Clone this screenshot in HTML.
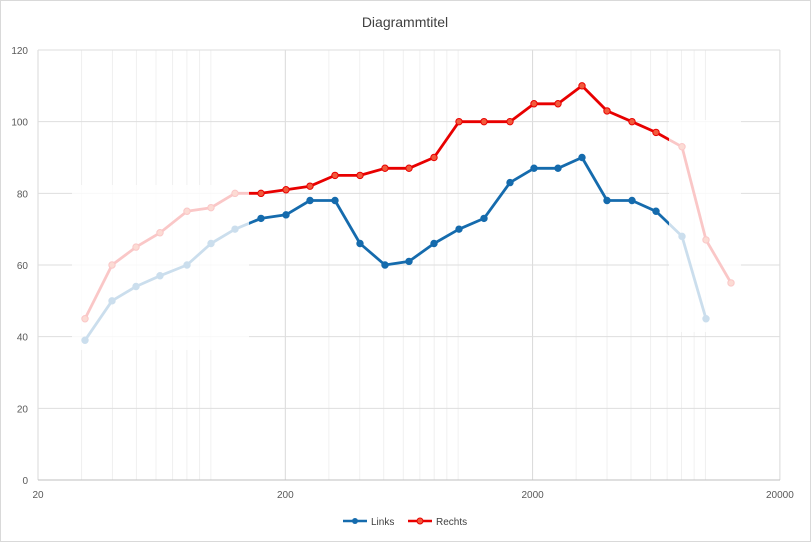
<!DOCTYPE html>
<html><head><meta charset="utf-8"><style>
body{margin:0;background:#fff}
svg{display:block;font-family:"Liberation Sans",sans-serif}
</style></head><body>
<svg width="811" height="542" viewBox="0 0 811 542" xmlns="http://www.w3.org/2000/svg">
<rect x="0.5" y="0.5" width="810" height="541" fill="#fff" stroke="#d9d9d9"/>
<text x="405" y="27" text-anchor="middle" font-size="14" fill="#404040">Diagrammtitel</text>
<g id="grid"></g>
<g id="series"></g>
<rect x="72" y="185" width="177" height="165" fill="#fff" opacity="0.78"/>
<rect x="669" y="120" width="72" height="212" fill="#fff" opacity="0.78"/>
<g font-size="10" fill="#595959" id="labels"></g>
<g font-size="10" fill="#404040">
<line x1="343" y1="521" x2="367" y2="521" stroke="#156bad" stroke-width="2.5"/><circle cx="355" cy="521" r="3" fill="#156bad"/>
<text x="371" y="525">Links</text>
<line x1="408" y1="521" x2="432" y2="521" stroke="#e80000" stroke-width="2.5"/><circle cx="420" cy="521" r="3" fill="#f25a3c" stroke="#e80000"/>
<text x="436" y="525">Rechts</text>
</g>
<script>
var ns="http://www.w3.org/2000/svg";
function X(f){return 38+247.3*Math.log10(f/20);}
function Y(v){return 480-v*3.5833;}
function el(p,t,a){var e=document.createElementNS(ns,t);for(var k in a)e.setAttribute(k,a[k]);p.appendChild(e);return e;}
var g=document.getElementById('grid'),L=document.getElementById('labels');
[[10,100],[100,1000],[1000,10000],[10000,100000]].forEach(function(r){for(var m=1;m<=9;m++){var f=r[0]*m;if(f<20||f>20000)continue;var x=X(f);el(g,'line',{x1:x,x2:x,y1:50,y2:480,stroke:(f==20||f==200||f==2000||f==20000)?'#d9d9d9':'#f0f0f0','stroke-width':1});}});
for(var v=20;v<=120;v+=20)el(g,'line',{x1:38,x2:780,y1:Y(v),y2:Y(v),stroke:'#dedede'});
el(g,'line',{x1:38,x2:780,y1:480,y2:480,stroke:'#bfbfbf'});
for(var v=0;v<=120;v+=20){var t=el(L,'text',{x:28,y:Y(v)+4,'text-anchor':'end'});t.textContent=v;}
[20,200,2000,20000].forEach(function(f){var t=el(L,'text',{x:X(f),y:498,'text-anchor':'middle'});t.textContent=f;});
var xs=[85,112,136,160,187,211,235,261,286,310,335,360,385,409,434,459,484,510,534,558,582,607,632,656,682,706,731];
var lk=[39,50,54,57,60,66,70,73,74,78,78,66,60,61,66,70,73,83,87,87,90,78,78,75,68,45];
var re=[45,60,65,69,75,76,80,80,81,82,85,85,87,87,90,100,100,100,105,105,110,103,100,97,93,67,55];
var s=document.getElementById('series');
function draw(vals,col,fill){var p=vals.map(function(v,i){return xs[i]+','+Y(v).toFixed(1)}).join(' ');
el(s,'polyline',{points:p,fill:'none',stroke:col,'stroke-width':2.8,'stroke-linejoin':'round'});
vals.forEach(function(v,i){el(s,'circle',{cx:xs[i],cy:Y(v),r:3.2,fill:fill,stroke:col,'stroke-width':1});});}
draw(lk,'#156bad','#156bad');
draw(re,'#e80000','#f25a3c');
</script>
</svg>
</body></html>
